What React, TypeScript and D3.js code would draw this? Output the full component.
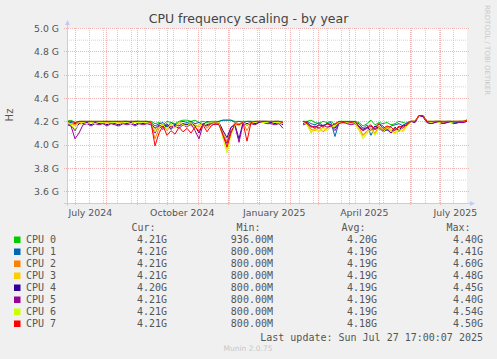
import React from 'react';
import * as d3 from 'd3';

const W = 497;
const H = 359;

// rrd samples, one every 4 days from 2024-06-22 17:00 (GHz, null = no data)
const sampleStart = new Date(2024, 5, 22, 17);
const graphEnd = new Date(2025, 6, 27, 17);

const cpu0 = [
  4.20, 4.21, 4.19, 4.20, 4.20, 4.20, 4.20, 4.20, 4.20, 4.20,
  4.20, 4.20, 4.20, 4.20, 4.20, 4.20, 4.20, 4.20, 4.20, 4.20,
  4.20, 4.20, 4.18, 4.19, 4.17, 4.20, 4.19, 4.18, 4.20, 4.21,
  4.21, 4.20, 4.21, 4.19, 4.20, 4.19, 4.20, 4.20, 4.20, 4.21,
  4.21, 4.21, 4.20, 4.20, 4.20, 4.20, 4.20, 4.20, 4.20, 4.20,
  4.20, 4.20, 4.20, 4.20, 4.20, null, null, null, null, 4.20,
  4.20, 4.21, 4.19, 4.18, 4.20, 4.19, 4.20, 4.17, 4.20, 4.20,
  4.20, 4.20, 4.20, 4.19, 4.16, 4.18, 4.21, 4.17, 4.19, 4.18,
  4.19, 4.17, 4.18, 4.20, 4.19, 4.18, 4.20, 4.20, 4.25, 4.25,
  4.20, 4.20, 4.20, 4.20, 4.20, 4.20, 4.20, 4.20, 4.20, 4.20, 4.21,
];
const cpu1 = [
  4.19, 4.19, 4.18, 4.19, 4.20, 4.19, 4.20, 4.19, 4.20, 4.19,
  4.20, 4.19, 4.20, 4.19, 4.20, 4.20, 4.19, 4.20, 4.20, 4.19,
  4.20, 4.19, 4.16, 4.18, 4.19, 4.15, 4.19, 4.17, 4.19, 4.20,
  4.19, 4.20, 4.18, 4.19, 4.17, 4.20, 4.19, 4.19, 4.20, 4.21,
  4.21, 4.21, 4.19, 4.20, 4.19, 4.20, 4.20, 4.19, 4.20, 4.20,
  4.20, 4.19, 4.20, 4.20, 4.19, null, null, null, null, 4.19,
  4.20, 4.18, 4.17, 4.19, 4.16, 4.18, 4.19, 4.07, 4.19, 4.20,
  4.19, 4.20, 4.19, 4.18, 4.14, 4.17, 4.08, 4.15, 4.18, 4.16,
  4.12, 4.16, 4.17, 4.18, 4.16, 4.19, 4.20, 4.20, 4.25, 4.25,
  4.20, 4.19, 4.20, 4.20, 4.19, 4.20, 4.20, 4.19, 4.20, 4.20, 4.21,
];
const cpu2 = [
  4.19, 4.18, 4.17, 4.19, 4.19, 4.19, 4.20, 4.19, 4.19, 4.18,
  4.19, 4.19, 4.20, 4.19, 4.19, 4.19, 4.20, 4.19, 4.19, 4.20,
  4.19, 4.18, 4.05, 4.14, 4.17, 4.12, 4.16, 4.15, 4.18, 4.17,
  4.18, 4.16, 4.17, 4.15, 4.18, 4.14, 4.18, 4.19, 4.18, 4.10,
  4.03, 4.14, 4.19, 4.18, 4.19, 4.12, 4.19, 4.20, 4.19, 4.20,
  4.19, 4.20, 4.19, 4.19, 4.19, null, null, null, null, 4.20,
  4.19, 4.13, 4.12, 4.15, 4.11, 4.14, 4.16, 4.15, 4.19, 4.18,
  4.19, 4.18, 4.19, 4.15, 4.08, 4.12, 4.14, 4.10, 4.16, 4.13,
  4.15, 4.12, 4.14, 4.11, 4.16, 4.17, 4.20, 4.20, 4.25, 4.25,
  4.20, 4.19, 4.20, 4.20, 4.19, 4.20, 4.19, 4.20, 4.20, 4.20, 4.21,
];
const cpu3 = [
  4.19, 4.18, 4.16, 4.19, 4.19, 4.18, 4.19, 4.19, 4.20, 4.19,
  4.19, 4.18, 4.19, 4.19, 4.20, 4.18, 4.19, 4.19, 4.20, 4.19,
  4.19, 4.19, 4.12, 4.16, 4.18, 4.14, 4.17, 4.16, 4.19, 4.18,
  4.17, 4.18, 4.15, 4.17, 4.18, 4.16, 4.19, 4.18, 4.19, 4.09,
  3.96, 4.10, 4.18, 4.17, 4.19, 4.16, 4.19, 4.19, 4.20, 4.19,
  4.20, 4.19, 4.19, 4.20, 4.18, null, null, null, null, 4.19,
  4.18, 4.11, 4.14, 4.12, 4.15, 4.13, 4.17, 4.16, 4.19, 4.19,
  4.18, 4.19, 4.18, 4.12, 4.07, 4.11, 4.15, 4.09, 4.14, 4.12,
  4.16, 4.13, 4.10, 4.14, 4.12, 4.17, 4.20, 4.20, 4.25, 4.25,
  4.20, 4.20, 4.19, 4.20, 4.20, 4.19, 4.20, 4.20, 4.19, 4.20, 4.21,
];
const cpu4 = [
  4.18, 4.17, 4.12, 4.18, 4.18, 4.19, 4.17, 4.19, 4.18, 4.19,
  4.17, 4.19, 4.18, 4.17, 4.19, 4.18, 4.19, 4.17, 4.19, 4.18,
  4.19, 4.18, 4.14, 4.17, 4.15, 4.18, 4.13, 4.17, 4.16, 4.18,
  4.17, 4.19, 4.16, 4.10, 4.18, 4.17, 4.19, 4.18, 4.19, 4.12,
  4.06, 4.15, 4.17, 4.05, 4.19, 4.18, 4.19, 4.18, 4.19, 4.20,
  4.19, 4.19, 4.18, 4.19, 4.17, null, null, null, null, 4.18,
  4.19, 4.16, 4.15, 4.17, 4.16, 4.18, 4.17, 4.14, 4.19, 4.18,
  4.19, 4.18, 4.19, 4.16, 4.13, 4.15, 4.12, 4.16, 4.14, 4.11,
  4.13, 4.10, 4.15, 4.12, 4.17, 4.16, 4.20, 4.19, 4.25, 4.24,
  4.19, 4.18, 4.19, 4.20, 4.18, 4.19, 4.19, 4.18, 4.20, 4.19, 4.20,
];
const cpu5 = [
  4.17, 4.16, 4.05, 4.10, 4.17, 4.18, 4.16, 4.18, 4.17, 4.18,
  4.16, 4.18, 4.17, 4.16, 4.18, 4.17, 4.18, 4.16, 4.18, 4.17,
  4.18, 4.17, 4.10, 4.16, 4.13, 4.17, 4.15, 4.16, 4.14, 4.17,
  4.15, 4.18, 4.12, 4.05, 4.17, 4.16, 4.18, 4.17, 4.18, 4.08,
  4.01, 4.12, 4.16, 4.02, 4.18, 4.17, 4.18, 4.17, 4.19, 4.19,
  4.18, 4.18, 4.17, 4.18, 4.14, null, null, null, null, 4.17,
  4.18, 4.15, 4.16, 4.14, 4.17, 4.15, 4.16, 4.12, 4.18, 4.19,
  4.18, 4.17, 4.18, 4.15, 4.12, 4.14, 4.16, 4.13, 4.15, 4.12,
  4.14, 4.10, 4.13, 4.15, 4.16, 4.17, 4.20, 4.19, 4.25, 4.24,
  4.19, 4.18, 4.19, 4.19, 4.18, 4.19, 4.20, 4.18, 4.19, 4.19, 4.20,
];
const cpu6 = [
  4.19, 4.17, 4.13, 4.17, 4.19, 4.18, 4.19, 4.18, 4.19, 4.19,
  4.18, 4.19, 4.19, 4.18, 4.19, 4.19, 4.18, 4.19, 4.19, 4.19,
  4.19, 4.18, 4.11, 4.15, 4.17, 4.13, 4.18, 4.14, 4.19, 4.17,
  4.16, 4.19, 4.14, 4.17, 4.16, 4.18, 4.19, 4.18, 4.19, 4.05,
  3.93, 4.08, 4.17, 4.16, 4.19, 4.17, 4.19, 4.19, 4.20, 4.19,
  4.19, 4.20, 4.19, 4.19, 4.18, null, null, null, null, 4.19,
  4.17, 4.10, 4.13, 4.11, 4.14, 4.12, 4.15, 4.16, 4.19, 4.18,
  4.19, 4.18, 4.19, 4.13, 4.05, 4.10, 4.13, 4.08, 4.15, 4.11,
  4.14, 4.12, 4.09, 4.13, 4.11, 4.16, 4.20, 4.20, 4.25, 4.25,
  4.20, 4.19, 4.20, 4.19, 4.20, 4.20, 4.19, 4.20, 4.20, 4.20, 4.21,
];
const cpu7 = [
  4.20, 4.20, 4.19, 4.20, 4.20, 4.20, 4.20, 4.20, 4.20, 4.20,
  4.20, 4.20, 4.20, 4.20, 4.20, 4.20, 4.20, 4.20, 4.20, 4.20,
  4.20, 4.19, 3.99, 4.10, 4.16, 4.08, 4.12, 4.09, 4.15, 4.11,
  4.14, 4.10, 4.15, 4.12, 4.17, 4.11, 4.16, 4.18, 4.17, 4.08,
  3.98, 4.10, 4.18, 4.17, 4.19, 4.03, 4.19, 4.20, 4.20, 4.20,
  4.20, 4.20, 4.20, 4.20, 4.19, null, null, null, null, 4.20,
  4.19, 4.16, 4.14, 4.17, 4.15, 4.18, 4.16, 4.18, 4.20, 4.19,
  4.20, 4.19, 4.20, 4.16, 4.12, 4.15, 4.17, 4.13, 4.18, 4.14,
  4.16, 4.15, 4.12, 4.16, 4.14, 4.18, 4.20, 4.20, 4.25, 4.25,
  4.20, 4.20, 4.20, 4.20, 4.20, 4.20, 4.20, 4.20, 4.20, 4.20, 4.21,
];

const series = [cpu0, cpu1, cpu2, cpu3, cpu4, cpu5, cpu6, cpu7];
const cpuLabels = ['CPU 0', 'CPU 1', 'CPU 2', 'CPU 3', 'CPU 4', 'CPU 5', 'CPU 6', 'CPU 7'];
const cpuColors = ['#00cc00', '#0066b3', '#ff8000', '#ffcc00', '#330099', '#990099', '#ccff00', '#ff0000'];
const curVals = ['4.21G', '4.21G', '4.21G', '4.21G', '4.20G', '4.21G', '4.21G', '4.21G'];
const minVals = ['936.00M', '800.00M', '800.00M', '800.00M', '800.00M', '800.00M', '800.00M', '800.00M'];
const avgVals = ['4.20G', '4.19G', '4.19G', '4.19G', '4.19G', '4.19G', '4.19G', '4.18G'];
const maxVals = ['4.40G', '4.41G', '4.60G', '4.48G', '4.45G', '4.40G', '4.54G', '4.50G'];

const yMajor = [3.6, 3.8, 4.0, 4.2, 4.4, 4.6, 4.8, 5.0];
const yMinor = [3.7, 3.9, 4.1, 4.3, 4.5, 4.7, 4.9];
const xLabelDates = [new Date(2024, 6, 16), new Date(2024, 9, 16), new Date(2025, 0, 16), new Date(2025, 3, 16), new Date(2025, 6, 16)];
const xLabelTexts = ['July 2024', 'October 2024', 'January 2025', 'April 2025', 'July 2025'];

const left = 67, right = 467, top = 28, bottom = 203;
const axisColor = '#c4ccf4';
const minorColor = '#d2d2d2';
const majorColor = '#efb4b4';
const textColor = '#555';
const sans = "'DejaVu Sans', sans-serif";
const mono = "'DejaVu Sans Mono', monospace";

const dates = series[0].map((_, i) => d3.timeDay.offset(sampleStart, 4 * i));

export default function App() {
  const x = d3.scaleTime().domain([sampleStart, graphEnd]).range([left, right]);
  const y = d3.scaleLinear().domain([3.5, 5.0]).range([bottom, top]);

  const line = d3.line<number | null>()
    .defined((v) => v != null)
    .x((_, i) => x(dates[i]))
    .y((v) => y(v as number));

  const months = d3.timeMonth.range(sampleStart, graphEnd);
  const fortnights = d3.timeDay.range(new Date(2024, 6, 15), graphEnd, 14);

  const legendY = 243;
  const step = 12;

  return (
    <svg width={W} height={H} style={{ position: 'absolute', left: 0, top: 0 }}>
      <defs>
        <clipPath id="plot">
          <rect x={left} y={top} width={right - left} height={bottom - top} />
        </clipPath>
      </defs>
      <rect width={W} height={H} fill="#f0f0f0" />
      <rect x={left} y={top} width={right - left} height={bottom - top} fill="#fff" />

      <text x={W / 2} y={23} textAnchor="middle" fontFamily={sans} fontSize={12.5} fill="#444">
        CPU frequency scaling - by year
      </text>

      {/* minor grid */}
      {yMinor.map((v) => (
        <line key={'ym' + v} x1={left} x2={right} y1={y(v) + 0.5} y2={y(v) + 0.5}
          stroke={minorColor} strokeDasharray="1,1" />
      ))}
      {fortnights.map((d) => (
        <line key={'xm' + d.getTime()} x1={Math.round(x(d)) + 0.5} x2={Math.round(x(d)) + 0.5} y1={top} y2={bottom}
          stroke={minorColor} strokeDasharray="1,1" />
      ))}
      {/* major grid */}
      {yMajor.map((v) => (
        <line key={'yM' + v} x1={left - 3} x2={right + 2} y1={Math.round(y(v)) + 0.5} y2={Math.round(y(v)) + 0.5}
          stroke={majorColor} strokeDasharray="1,1" />
      ))}
      {months.map((d) => (
        <line key={'xM' + d.getTime()} x1={Math.round(x(d)) + 0.5} x2={Math.round(x(d)) + 0.5} y1={top} y2={bottom + 3}
          stroke={majorColor} strokeDasharray="1,1" />
      ))}

      {/* series */}
      <g clipPath="url(#plot)">
        {series.map((s, k) => (
          <path key={k} d={line(s) || ''} fill="none" stroke={cpuColors[k]} strokeWidth={1} />
        ))}
      </g>

      {/* axes */}
      <line x1={left + 0.5} x2={left + 0.5} y1={bottom + 3} y2={top - 4} stroke={axisColor} />
      <path d={`M${left - 2},${top - 3} L${left + 3},${top - 3} L${left + 0.5},${top - 8} Z`} fill={axisColor} />
      <line x1={left - 3} x2={right + 4} y1={bottom + 0.5} y2={bottom + 0.5} stroke={axisColor} />
      <path d={`M${right + 3},${bottom - 2} L${right + 3},${bottom + 3} L${right + 8},${bottom + 0.5} Z`} fill={axisColor} />

      {yMajor.map((v) => (
        <text key={'yl' + v} x={59} y={y(v) + 3.5} textAnchor="end" fontFamily={sans} fontSize={9.3} fill={textColor}>
          {v.toFixed(1)} G
        </text>
      ))}
      {xLabelDates.map((d, i) => (
        <text key={'xl' + i} x={x(d)} y={216} textAnchor="middle" fontFamily={sans} fontSize={9.4} fill={textColor}>
          {xLabelTexts[i]}
        </text>
      ))}

      <text transform="translate(13,115) rotate(-90)" textAnchor="middle" fontFamily={sans} fontSize={10} fill={textColor}>
        Hz
      </text>
      <text transform="translate(485,5) rotate(90)" fontFamily={sans} fontSize={7} fill="#c8c8c8">
        RRDTOOL / TOBI OETIKER
      </text>

      {/* legend */}
      <g fontFamily={mono} fontSize={10} fill={textColor}>
        <text x={131.5} y={231}>Cur:</text>
        <text x={236.5} y={231}>Min:</text>
        <text x={341.5} y={231}>Avg:</text>
        <text x={446.5} y={231}>Max:</text>
        {cpuLabels.map((lab, i) => (
          <g key={lab}>
            <rect x={14} y={legendY + i * step - 6.5} width={6.5} height={6.5} fill={cpuColors[i]} />
            <text x={26} y={legendY + i * step}>{lab}</text>
            <text x={167} y={legendY + i * step} textAnchor="end">{curVals[i]}</text>
            <text x={273} y={legendY + i * step} textAnchor="end">{minVals[i]}</text>
            <text x={377} y={legendY + i * step} textAnchor="end">{avgVals[i]}</text>
            <text x={483} y={legendY + i * step} textAnchor="end">{maxVals[i]}</text>
          </g>
        ))}
        <text x={483} y={340.5} textAnchor="end">Last update: Sun Jul 27 17:00:07 2025</text>
      </g>
      <text x={248} y={351} textAnchor="middle" fontFamily={sans} fontSize={7.5} fill="#c8c8c8">
        Munin 2.0.75
      </text>
    </svg>
  );
}
